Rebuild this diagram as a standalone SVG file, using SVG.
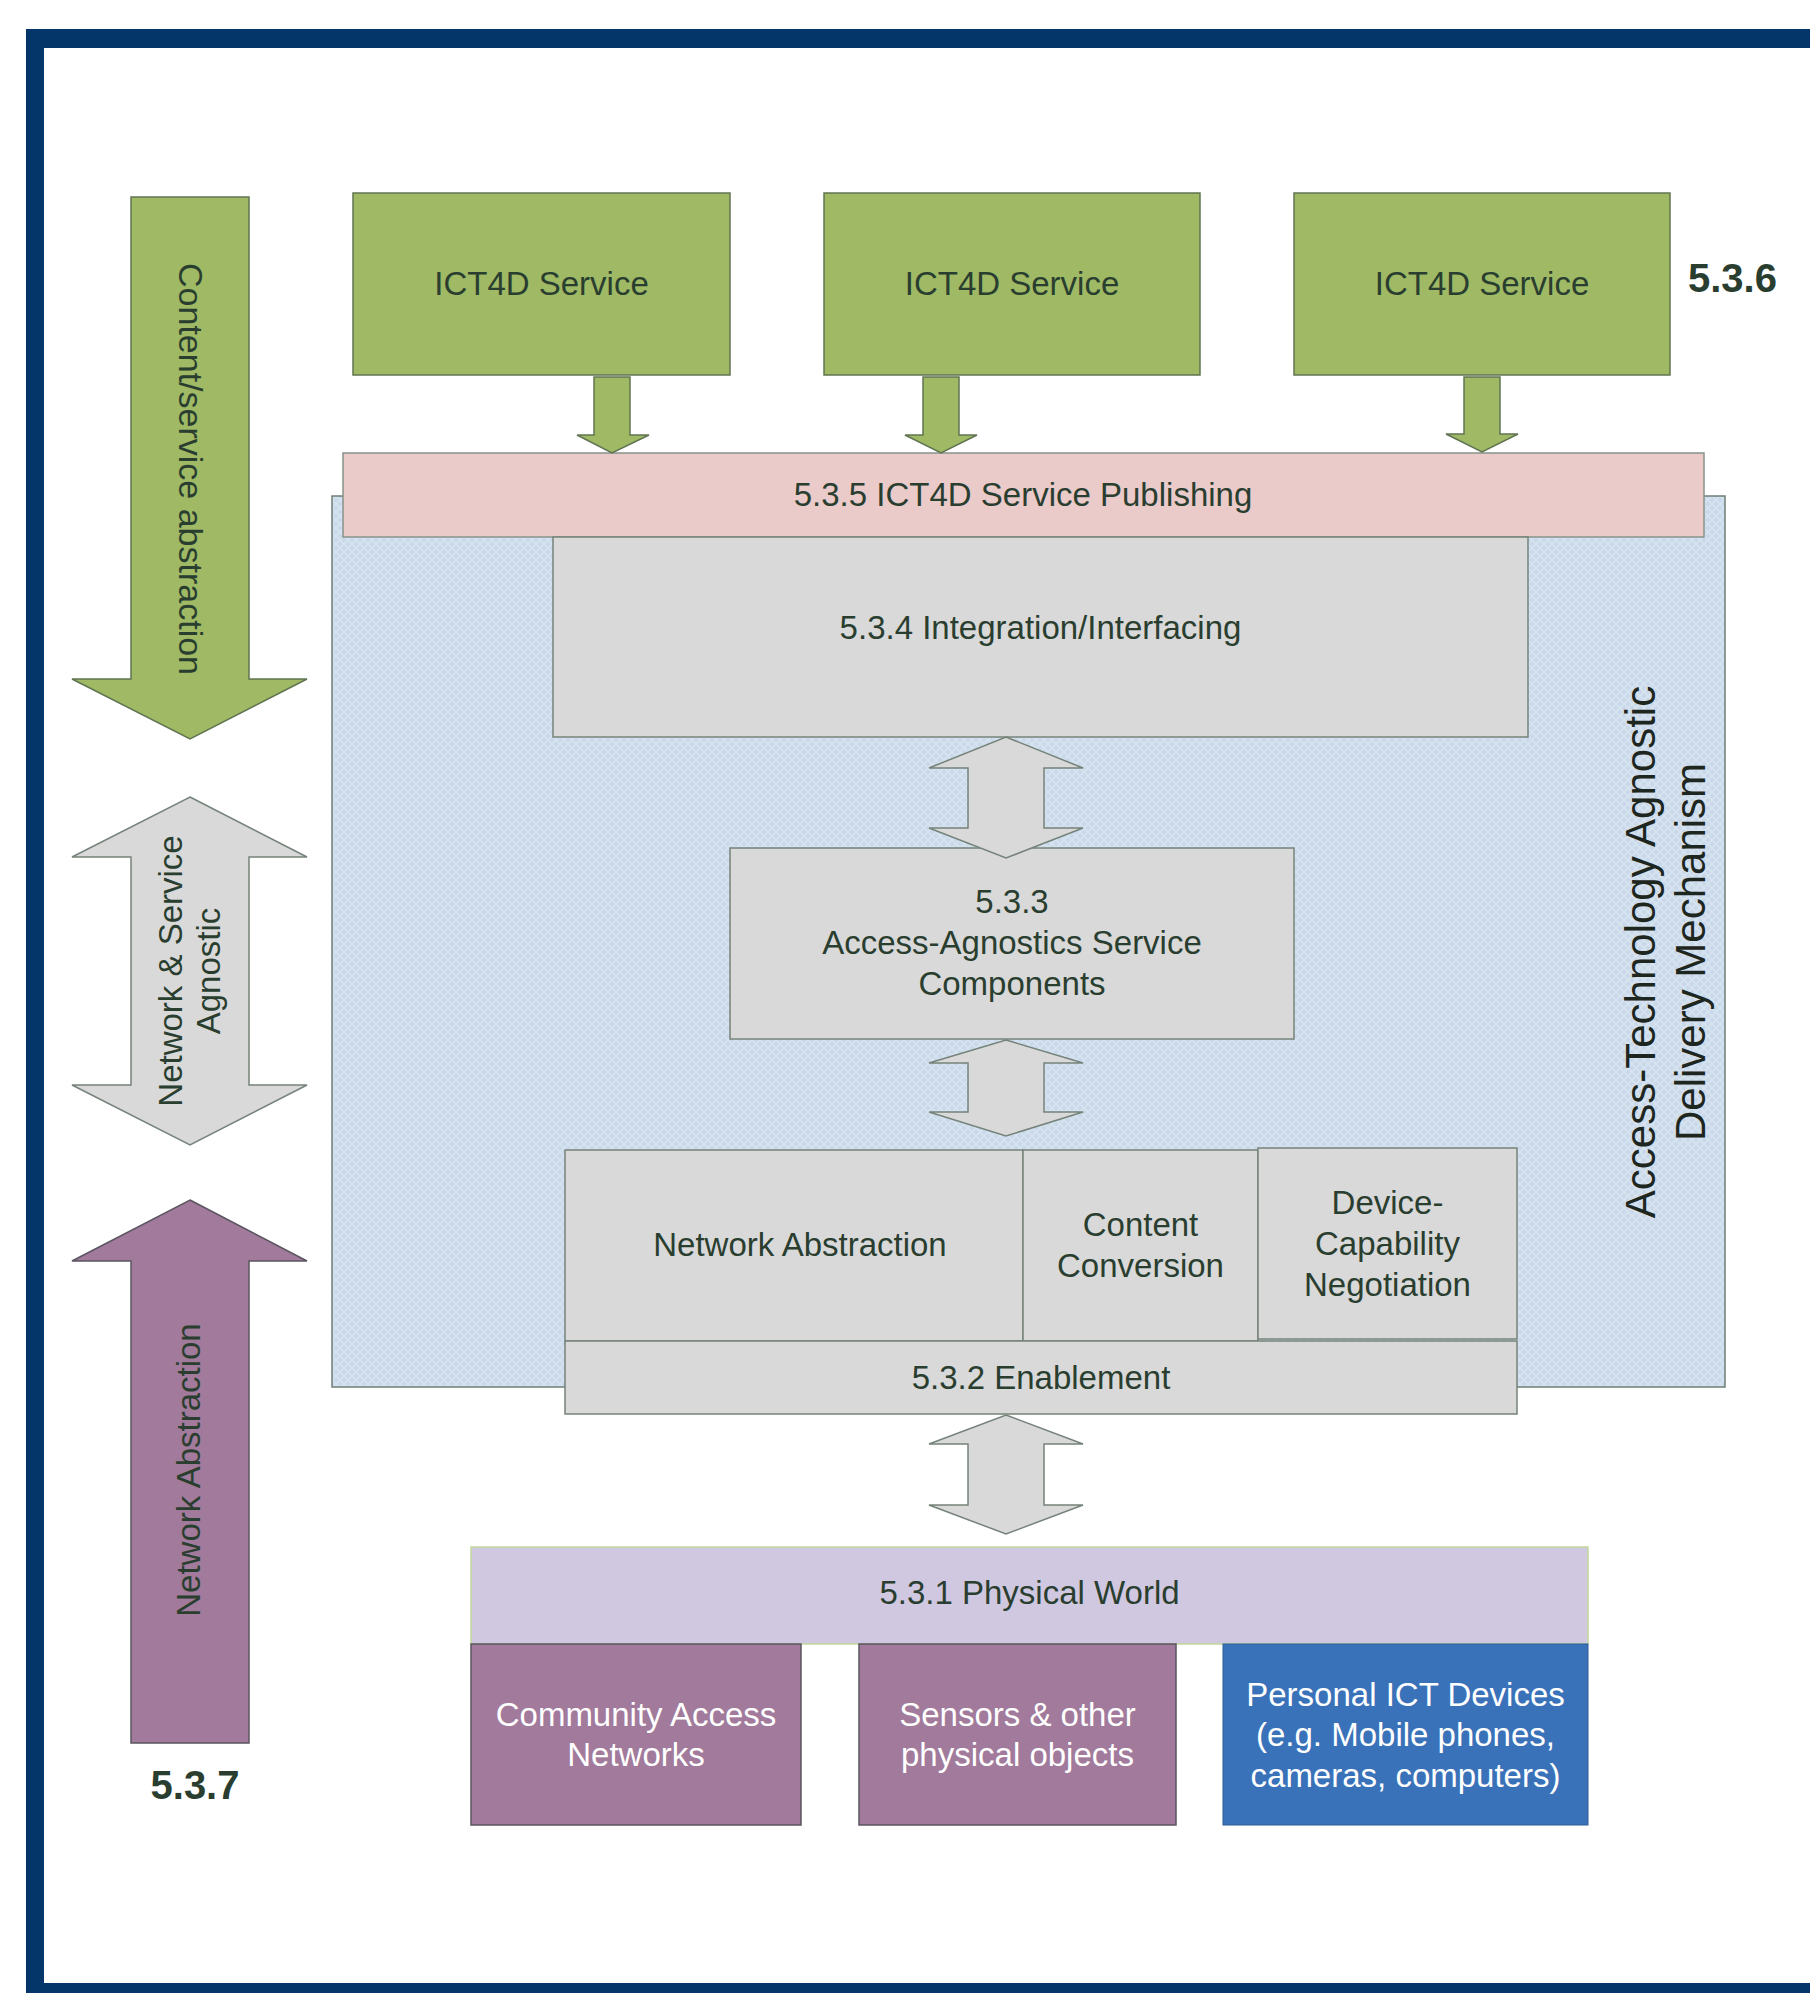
<svg xmlns="http://www.w3.org/2000/svg" width="1810" height="1993" viewBox="0 0 1810 1993">
  <defs>
    <pattern id="hatch" width="8" height="8" patternUnits="userSpaceOnUse">
      <rect width="8" height="8" fill="#cad9ea"/>
      <path d="M0,0 L8,8 M8,0 L0,8" stroke="#d9e4f1" stroke-width="1.4"/>
    </pattern>
    <style>
      .lbl { font-family: "Liberation Sans", Arial, sans-serif; font-size: 33px; fill: #2a3e30; text-anchor: middle; }
      .wht { fill: #ffffff; }
      .num { font-family: "Liberation Sans", Arial, sans-serif; font-size: 40px; font-weight: bold; fill: #2a3e30; }
      .green { fill: #9fb965; stroke: #617452; stroke-width: 1.5; }
      .grey { fill: #d9d9d9; stroke: #75837a; stroke-width: 1.5; }
      .pink { fill: #ebcaca; stroke: #86938a; stroke-width: 1.5; }
      .lav { fill: #d0c8e0; stroke: #c3d89c; stroke-width: 1.5; }
      .purple { fill: #a17a9c; stroke: #5a5560; stroke-width: 1.5; }
      .blue { fill: #3a72b9; stroke: #2e5c96; stroke-width: 1; }
    </style>
  </defs>

  <!-- page and frame -->
  <rect width="1810" height="1993" fill="#ffffff"/>
  <rect x="26" y="29" width="1800" height="1990" fill="#04366a"/>
  <rect x="44" y="48" width="1780" height="1935" fill="#ffffff"/>

  <!-- delivery mechanism background -->
  <g id="delivery-mechanism">
    <rect x="332" y="496" width="1393" height="891" fill="url(#hatch)" stroke="#6f7f76" stroke-width="1.5"/>
    <text class="lbl" style="font-size:42px;fill:#1e2620" transform="translate(1655,952) rotate(-90)">Access-Technology Agnostic</text>
    <text class="lbl" style="font-size:42px;fill:#1e2620" transform="translate(1705,952) rotate(-90)">Delivery Mechanism</text>
  </g>

  <!-- services -->
  <g id="service-1">
    <rect class="green" x="353" y="193" width="377" height="182"/>
    <text class="lbl" x="541.5" y="295">ICT4D Service</text>
  </g>
  <g id="service-2">
    <rect class="green" x="824" y="193" width="376" height="182"/>
    <text class="lbl" x="1012" y="295">ICT4D Service</text>
  </g>
  <g id="service-3">
    <rect class="green" x="1294" y="193" width="376" height="182"/>
    <text class="lbl" x="1482" y="295">ICT4D Service</text>
  </g>
  <text class="num" x="1688" y="292">5.3.6</text>

  <g id="publishing">
    <rect class="pink" x="343" y="453" width="1361" height="84"/>
    <text class="lbl" x="1023" y="506">5.3.5 ICT4D Service Publishing</text>
  </g>

  <g id="integration">
    <rect class="grey" x="553" y="537" width="975" height="200"/>
    <text class="lbl" x="1040.5" y="639">5.3.4 Integration/Interfacing</text>
  </g>

  <g id="service-components">
    <rect class="grey" x="730" y="848" width="564" height="191"/>
    <text class="lbl" x="1012" y="913">5.3.3</text>
    <text class="lbl" x="1012" y="954">Access-Agnostics Service</text>
    <text class="lbl" x="1012" y="995">Components</text>
  </g>

  <g id="network-abstraction">
    <rect class="grey" x="565" y="1150" width="458" height="191"/>
    <text class="lbl" x="800" y="1256">Network Abstraction</text>
  </g>
  <g id="content-conversion">
    <rect class="grey" x="1023" y="1150" width="235" height="191"/>
    <text class="lbl" x="1140.5" y="1236">Content</text>
    <text class="lbl" x="1140.5" y="1277">Conversion</text>
  </g>
  <g id="device-negotiation">
    <rect class="grey" x="1258" y="1148" width="259" height="191"/>
    <text class="lbl" x="1387.5" y="1214">Device-</text>
    <text class="lbl" x="1387.5" y="1255">Capability</text>
    <text class="lbl" x="1387.5" y="1296">Negotiation</text>
  </g>
  <g id="enablement">
    <rect class="grey" x="565" y="1341" width="952" height="73"/>
    <text class="lbl" x="1041" y="1389">5.3.2 Enablement</text>
  </g>

  <g id="physical-world">
    <rect class="lav" x="471" y="1547" width="1117" height="97"/>
    <text class="lbl" x="1029.5" y="1604">5.3.1 Physical World</text>
  </g>
  <g id="community-networks">
    <rect class="purple" x="471" y="1644" width="330" height="181"/>
    <text class="lbl wht" x="636" y="1726">Community Access</text>
    <text class="lbl wht" x="636" y="1766">Networks</text>
  </g>
  <g id="sensors">
    <rect class="purple" x="859" y="1644" width="317" height="181"/>
    <text class="lbl wht" x="1017.5" y="1726">Sensors &amp; other</text>
    <text class="lbl wht" x="1017.5" y="1766">physical objects</text>
  </g>
  <g id="personal-devices">
    <rect class="blue" x="1223" y="1644" width="365" height="181"/>
    <text class="lbl wht" x="1405.5" y="1706">Personal ICT Devices</text>
    <text class="lbl wht" x="1405.5" y="1746">(e.g. Mobile phones,</text>
    <text class="lbl wht" x="1405.5" y="1787">cameras, computers)</text>
  </g>

  <!-- side scale arrows -->
  <g id="content-abstraction">
    <path class="green" d="M131,197 H249 V679 H307 L190,739 L72,679 H131 Z"/>
    <text class="lbl" style="font-size:34px" transform="translate(179,469) rotate(90)">Content/service abstraction</text>
  </g>
  <g id="agnostic">
    <path class="grey" d="M190,797 L307,857 H249 V1085 H307 L190,1145 L72,1085 H131 V857 H72 Z"/>
    <text class="lbl" transform="translate(182,971) rotate(-90)">Network &amp; Service</text>
    <text class="lbl" transform="translate(220,971) rotate(-90)">Agnostic</text>
  </g>
  <g id="net-abstraction-scale">
    <path class="purple" d="M190,1200 L307,1261 H249 V1743 H131 V1261 H72 Z"/>
    <text class="lbl" transform="translate(200,1470) rotate(-90)">Network Abstraction</text>
  </g>
  <text class="num" x="195" y="1799" text-anchor="middle">5.3.7</text>

  <!-- connectors -->
  <g id="connectors">
    <path class="green" d="M594,377 H630 V435 H649 L612,453 L577,435 H594 Z"/>
    <path class="green" d="M923,377 H959 V435 H977 L941,453 L905,435 H923 Z"/>
    <path class="green" d="M1464,377 H1500 V434 H1518 L1482,452 L1446,434 H1464 Z"/>
    <path class="grey" d="M1006,737 L1083,768 H1044 V828 H1083 L1006,858 L929,828 H968 V768 H929 Z"/>
    <path class="grey" d="M1006,1040 L1083,1063 H1044 V1112 H1083 L1006,1136 L929,1112 H968 V1063 H929 Z"/>
    <path class="grey" d="M1006,1415 L1083,1444 H1044 V1505 H1083 L1006,1534 L929,1505 H968 V1444 H929 Z"/>
  </g>
</svg>
